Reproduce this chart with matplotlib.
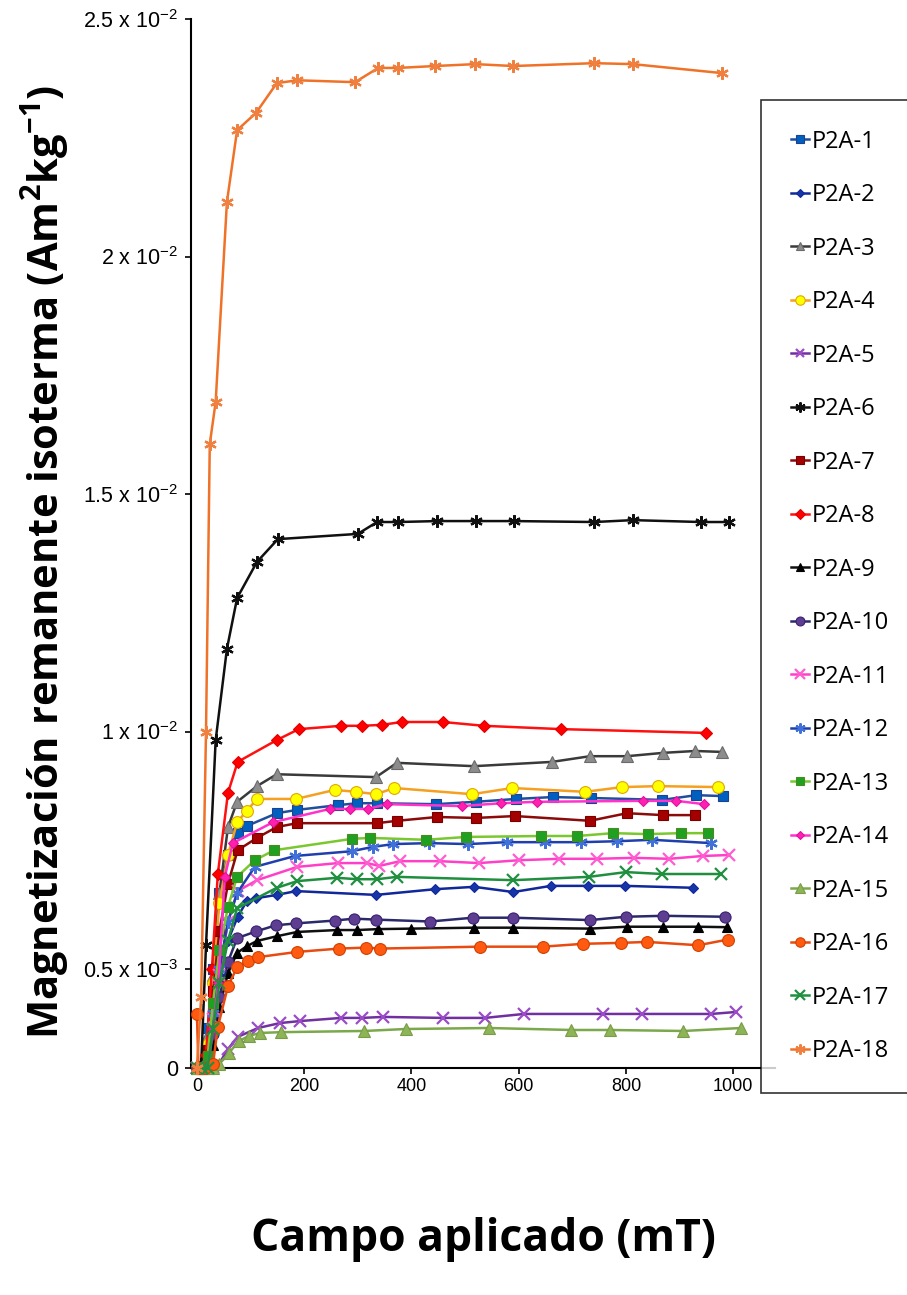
import numpy as np
import matplotlib
matplotlib.use("Agg")
import matplotlib.pyplot as plt

plt.rcParams['mathtext.fontset'] = 'custom'
plt.rcParams['mathtext.rm'] = 'Liberation Sans'
plt.rcParams['mathtext.it'] = 'Liberation Sans:italic'
plt.rcParams['mathtext.bf'] = 'Open Sans:bold'

# ---------------- data (field in mT, IRM in units of 1e-2 Am2/kg) ----------------
labels = ["P2A-%d" % i for i in range(1, 19)]

x1 = [0, 10, 20, 30, 42, 58, 76, 93, 149, 187, 263, 299, 336, 446, 520, 595, 664, 735, 868, 931, 981]
y1 = [0.0, 0.01, 0.20, 0.50, 0.66, 0.74, 0.786, 0.801, 0.828, 0.835, 0.845, 0.849, 0.849, 0.847, 0.852, 0.858, 0.862, 0.860, 0.856, 0.866, 0.864]

x2 = [0, 10, 20, 30, 42, 58, 76, 93, 110, 149, 185, 334, 444, 517, 590, 660, 729, 799, 925]
y2 = [0.0, 0.0, 0.06, 0.29, 0.47, 0.56, 0.61, 0.643, 0.649, 0.656, 0.664, 0.656, 0.668, 0.673, 0.662, 0.675, 0.675, 0.675, 0.671]

x3 = [0, 10, 20, 30, 42, 58, 75, 112, 149, 334, 373, 517, 662, 733, 802, 869, 929, 979]
y3 = [0.0, 0.0, 0.17, 0.47, 0.66, 0.799, 0.852, 0.885, 0.910, 0.904, 0.934, 0.927, 0.936, 0.948, 0.948, 0.955, 0.959, 0.957]

x4 = [0, 10, 20, 30, 42, 58, 75, 93, 112, 185, 257, 297, 334, 368, 513, 588, 724, 793, 860, 972]
y4 = [0.0, 0.0, 0.12, 0.43, 0.64, 0.74, 0.809, 0.833, 0.858, 0.858, 0.877, 0.873, 0.868, 0.881, 0.868, 0.881, 0.873, 0.883, 0.885, 0.883]

x5 = [0, 10, 20, 30, 41, 58, 76, 114, 155, 192, 269, 308, 347, 459, 537, 610, 757, 830, 959, 1006]
y5 = [0.0, 0.0, 0.0, 0.005, 0.02, 0.096, 0.157, 0.202, 0.227, 0.237, 0.253, 0.253, 0.258, 0.253, 0.253, 0.273, 0.273, 0.273, 0.273, 0.283]

x6 = [0, 8, 17, 35, 56, 75, 112, 151, 300, 336, 375, 448, 520, 591, 741, 813, 940, 992]
y6 = [0.0, 0.02, 0.55, 0.982, 1.174, 1.281, 1.357, 1.405, 1.416, 1.441, 1.441, 1.443, 1.443, 1.443, 1.441, 1.445, 1.441, 1.441]

x7 = [0, 10, 20, 30, 42, 58, 76, 112, 149, 187, 336, 373, 448, 520, 593, 733, 802, 869, 929]
y7 = [0.0, 0.0, 0.09, 0.39, 0.58, 0.68, 0.75, 0.776, 0.799, 0.807, 0.807, 0.812, 0.82, 0.818, 0.822, 0.812, 0.828, 0.824, 0.824]

x8 = [0, 10, 17, 28, 39, 58, 76, 149, 190, 269, 308, 345, 382, 459, 535, 679, 950]
y8 = [0.0, 0.0, 0.066, 0.50, 0.70, 0.871, 0.936, 0.982, 1.005, 1.012, 1.012, 1.014, 1.02, 1.02, 1.012, 1.005, 0.997]

x9 = [0, 10, 20, 30, 42, 58, 75, 93, 112, 149, 187, 261, 299, 338, 400, 517, 590, 733, 802, 869, 935, 989]
y9 = [0.0, 0.0, 0.0, 0.115, 0.307, 0.479, 0.534, 0.548, 0.559, 0.569, 0.578, 0.582, 0.582, 0.584, 0.585, 0.587, 0.587, 0.585, 0.589, 0.589, 0.589, 0.588]

x10 = [0, 10, 20, 30, 42, 58, 75, 110, 147, 185, 257, 293, 334, 435, 515, 590, 733, 800, 870, 985]
y10 = [0.0, 0.0, 0.0, 0.17, 0.36, 0.515, 0.565, 0.579, 0.592, 0.596, 0.602, 0.606, 0.604, 0.600, 0.608, 0.608, 0.603, 0.61, 0.612, 0.61]

x11 = [0, 10, 20, 30, 42, 58, 76, 112, 187, 263, 317, 340, 379, 453, 526, 601, 675, 746, 815, 881, 944, 993]
y11 = [0.0, 0.0, 0.0, 0.25, 0.47, 0.60, 0.664, 0.687, 0.715, 0.723, 0.723, 0.717, 0.727, 0.727, 0.723, 0.729, 0.732, 0.732, 0.734, 0.732, 0.738, 0.74]

x12 = [0, 10, 20, 30, 42, 58, 75, 108, 183, 289, 328, 366, 433, 506, 578, 649, 716, 784, 849, 959]
y12 = [0.0, 0.0, 0.03, 0.28, 0.50, 0.60, 0.66, 0.715, 0.738, 0.748, 0.757, 0.763, 0.765, 0.763, 0.767, 0.767, 0.767, 0.769, 0.772, 0.765]

x13 = [0, 10, 20, 30, 42, 58, 75, 108, 144, 289, 323, 427, 502, 642, 709, 776, 841, 903, 953]
y13 = [0.0, 0.0, 0.06, 0.33, 0.54, 0.631, 0.694, 0.729, 0.75, 0.774, 0.776, 0.772, 0.778, 0.78, 0.78, 0.786, 0.784, 0.786, 0.786]

x14 = [0, 10, 20, 30, 40, 52, 67, 142, 248, 285, 319, 354, 494, 567, 634, 832, 894, 946]
y14 = [0.0, 0.0, 0.0, 0.198, 0.43, 0.694, 0.765, 0.809, 0.837, 0.837, 0.837, 0.847, 0.843, 0.849, 0.852, 0.854, 0.854, 0.847]

x15 = [0, 10, 20, 30, 41, 60, 78, 97, 118, 157, 312, 390, 545, 698, 771, 907, 1015]
y15 = [0.0, 0.0, 0.0, 0.0, 0.02, 0.076, 0.136, 0.162, 0.177, 0.181, 0.187, 0.197, 0.202, 0.192, 0.192, 0.187, 0.202]

x16 = [0, 3, 15, 30, 39, 58, 75, 95, 114, 187, 265, 315, 341, 528, 645, 720, 790, 840, 935, 990]
y16 = [0.273, 0.0, 0.0, 0.02, 0.207, 0.414, 0.5036, 0.516, 0.525, 0.536, 0.543, 0.545, 0.543, 0.547, 0.547, 0.553, 0.555, 0.557, 0.55, 0.562]

x17 = [0, 10, 20, 30, 42, 58, 75, 149, 187, 261, 299, 336, 373, 590, 731, 800, 868, 978]
y17 = [0.0, 0.0, 0.0, 0.198, 0.43, 0.56, 0.628, 0.671, 0.685, 0.692, 0.689, 0.689, 0.694, 0.687, 0.694, 0.704, 0.700, 0.700]

x18 = [0, 8, 17, 24, 35, 56, 75, 110, 149, 187, 295, 338, 375, 444, 519, 590, 741, 813, 980]
y18 = [0.0, 0.36, 1.0, 1.605, 1.694, 2.115, 2.266, 2.302, 2.365, 2.371, 2.367, 2.397, 2.397, 2.401, 2.405, 2.401, 2.407, 2.405, 2.386]

xs = [x1, x2, x3, x4, x5, x6, x7, x8, x9, x10, x11, x12, x13, x14, x15, x16, x17, x18]
ys = [y1, y2, y3, y4, y5, y6, y7, y8, y9, y10, y11, y12, y13, y14, y15, y16, y17, y18]

ytick_vals = [0, 0.005, 0.01, 0.015, 0.02, 0.025]
ytick_labels = ["0", "0.5 x 10$^{-3}$", "1 x 10$^{-2}$", "1.5 x 10$^{-2}$",
                "2 x 10$^{-2}$", "2.5 x 10$^{-2}$"]
xtick_vals = [0, 200, 400, 600, 800, 1000]

# ---------------- styles: (line color, marker, face, edge, size) ----------------
styles = [
    ("#1F4E9F", "s", "#0060C0", "#1F3F8F", 7),
    ("#10289A", "D", "#1535A8", "#10289A", 5.5),
    ("#3A3A3A", "^", "#8C8C8C", "#6A6A6A", 8),
    ("#F5A020", "o", "#FFFF00", "#E0A800", 8.5),
    ("#7030A0", "x", "#9A4CC8", "#9A4CC8", 8),
    ("#101010", (6, 2, 0), "#101010", "#101010", 9),
    ("#8B0A0A", "s", "#A50000", "#7A0000", 7),
    ("#FF1010", "D", "#FF0000", "#E00000", 6),
    ("#101010", "^", "#000000", "#000000", 7.5),
    ("#2A2A6A", "o", "#5E3E90", "#3A2070", 8),
    ("#FF3FC8", "x", "#FF5CD0", "#FF5CD0", 8.5),
    ("#1F3FAF", (6, 2, 0), "#4070D8", "#4070D8", 9),
    ("#7AC830", "s", "#20A020", "#4A8A20", 7.5),
    ("#FF33CC", "D", "#FF20B0", "#E010A0", 5.5),
    ("#7AA84A", "^", "#8DB455", "#7A9C48", 8.5),
    ("#E84A10", "o", "#FF5A10", "#D04000", 8.5),
    ("#1F8F3F", "x", "#209040", "#209040", 8.5),
    ("#F07228", (6, 2, 0), "#F08040", "#F08040", 9),
]

W, H = 907, 1295
fig = plt.figure(figsize=(W / 100, H / 100), dpi=100)

ax_left, ax_right = 191, 775
ax_top, ax_bottom = 19, 1068
ax = fig.add_axes([ax_left / W, 1 - ax_bottom / H, (ax_right - ax_left) / W, (ax_bottom - ax_top) / H])

# piecewise-linear y scale: the 0 - 0.5e-2 segment is compressed
k = 99 / 237.5
def fwd(y):
    y = np.asarray(y, dtype=float)
    return np.where(y < 0.005, y * k, y - 0.005 * (1 - k))
def inv(t):
    t = np.asarray(t, dtype=float)
    return np.where(t < 0.005 * k, t / k, t + 0.005 * (1 - k))
ax.set_yscale('function', functions=(fwd, inv))

handles = []
for x, y, lab, (lc, mk, fc, ec, ms) in zip(xs, ys, labels, styles):
    yv = np.array(y) * 1e-2
    mew = 1.6 if mk in ("x",) or isinstance(mk, tuple) else 0.8
    h, = ax.plot(x, yv, color=lc, lw=1.8, marker=mk, markersize=ms,
                 markerfacecolor=fc, markeredgecolor=ec, markeredgewidth=mew,
                 label=lab, clip_on=False, zorder=3)
    handles.append(h)

ax.set_xlim(-11, 1078)
ax.set_ylim(0, 0.025)
ax.set_yticks(ytick_vals)
ax.set_yticklabels(ytick_labels, fontfamily="Liberation Sans", fontsize=15.5)
ax.set_xticks(xtick_vals)
ax.set_xticklabels([str(v) for v in xtick_vals], fontfamily="Liberation Sans", fontsize=13)
ax.yaxis.set_minor_locator(matplotlib.ticker.NullLocator())
ax.tick_params(axis='both', direction='out', length=4, width=1.2, color='black')
ax.tick_params(axis='y', pad=5)
ax.tick_params(axis='x', pad=3)
for s in ("top", "right"):
    ax.spines[s].set_visible(False)
for s in ("left", "bottom"):
    ax.spines[s].set_linewidth(1.5)
    ax.spines[s].set_color("black")

fig.text(45 / W, 1 - 562 / H, "Magnetización remanente isoterma (Am$^\\mathbf{2}$kg$^\\mathbf{-1}$)",
         rotation=90, ha='center', va='center', fontfamily="Open Sans",
         fontweight='bold', fontsize=30)
fig.text(483 / W, 1 - 1240 / H, "Campo aplicado (mT)", ha='center', va='center',
         fontfamily="Open Sans", fontweight='bold', fontsize=32)

leg = fig.legend(handles=handles, loc='upper left', bbox_to_anchor=(761 / W, 1 - 100 / H),
                 prop={'family': 'Open Sans', 'size': 17}, frameon=True, fancybox=False,
                 edgecolor='black', handlelength=0.8, handletextpad=0.12,
                 labelspacing=1.25, borderpad=1.25, borderaxespad=0, markerscale=0.8)
leg.get_frame().set_linewidth(1.2)

fig.savefig("out.png", dpi=100)
